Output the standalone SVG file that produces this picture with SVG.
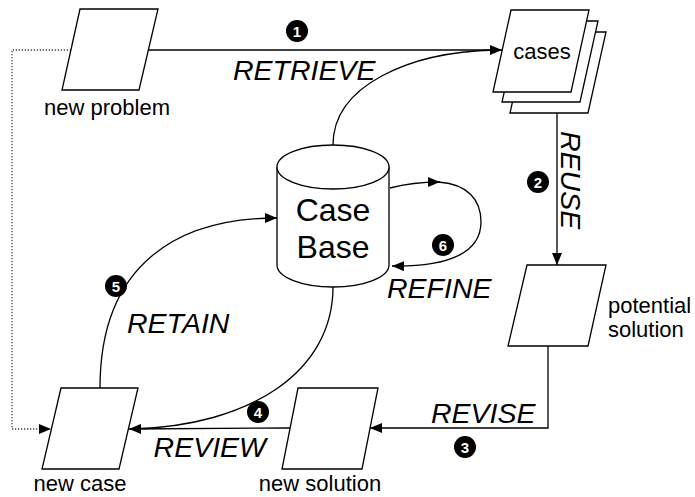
<svg xmlns="http://www.w3.org/2000/svg" width="695" height="497" viewBox="0 0 695 497">
  <defs>
    <marker id="arrow" viewBox="0 0 12 10" refX="12" refY="5" markerWidth="12" markerHeight="10" markerUnits="userSpaceOnUse" orient="auto">
      <path d="M0,0 L12,5 L0,10 Z" fill="#000"/>
    </marker>
    <style>
      .shape { fill: #fff; stroke: #000; stroke-width: 1.3; }
      .line { fill: none; stroke: #000; stroke-width: 1.3; }
      .dotted { fill: none; stroke: #444; stroke-width: 1.3; stroke-dasharray: 1.3 1.7; }
      .label { font-family: "Liberation Sans", Arial, sans-serif; font-size: 22px; fill: #000; }
      .step { font-family: "Liberation Sans", Arial, sans-serif; font-size: 28.5px; font-style: italic; fill: #000; }
      .big { font-family: "Liberation Sans", Arial, sans-serif; font-size: 32px; fill: #000; text-anchor: middle; }
      .badge circle { fill: #000; }
      .badge text { font-family: "Liberation Sans", Arial, sans-serif; font-size: 15px; font-weight: bold; fill: #fff; text-anchor: middle; }
    </style>
  </defs>

  <!-- connectors -->
  <g id="connectors">
    <!-- retrieve: new problem to cases -->
    <path class="line" d="M148,50 L502,50" marker-end="url(#arrow)"/>
    <path class="line" d="M333,145 C333,85 410,52 495,50"/>
    <!-- reuse -->
    <path class="line" d="M557,113 L557,265" marker-end="url(#arrow)"/>
    <!-- revise -->
    <path class="line" d="M548,346 L548,428 L370,428" marker-end="url(#arrow)"/>
    <!-- review -->
    <path class="line" d="M290,428 L129,429" marker-end="url(#arrow)"/>
    <path class="line" d="M333,287 C333,372 250,426 132,429"/>
    <!-- retain -->
    <path class="line" d="M100,388 C100,262 180,218 277,218" marker-end="url(#arrow)"/>
    <!-- refine loop -->
    <path class="line" d="M390,188 C405,184 420,182 440,182" marker-end="url(#arrow)"/>
    <path class="line" d="M438,182 C468,184 481,200 481,222 C481,252 450,267 392,266" marker-end="url(#arrow)"/>
    <!-- new problem also feeds the new case -->
    <path class="dotted" d="M71,50 L12,50 L12,429 L51,429" />
    <path d="M39,424 L51,429 L39,434 Z" fill="#000"/>
  </g>

  <!-- new problem -->
  <g id="new-problem">
    <polygon class="shape" points="80,9 158,9 139,90 62,90"/>
    <text class="label" x="107" y="115" text-anchor="middle">new problem</text>
  </g>

  <!-- cases (stack of sheets) -->
  <g id="cases">
    <polygon class="shape" points="528,32 606,32 588,113 510,113"/>
    <polygon class="shape" points="520,21 598,21 580,102 502,102"/>
    <polygon class="shape" points="511,10 589,10 571,92 493,92"/>
    <text class="label" x="542" y="59" text-anchor="middle">cases</text>
  </g>

  <!-- case base cylinder -->
  <g id="case-base">
    <path class="shape" d="M277,167 L277,265 A56,22 0 0 0 389,265 L389,167"/>
    <ellipse class="shape" cx="333" cy="167" rx="56" ry="22"/>
    <text class="big" x="333" y="221">Case</text>
    <text class="big" x="333" y="258">Base</text>
  </g>

  <!-- potential solution -->
  <g id="potential-solution">
    <polygon class="shape" points="527,265 606,265 588,346 508,346"/>
    <text class="label" x="608" y="313">potential</text>
    <text class="label" x="608" y="337">solution</text>
  </g>

  <!-- new solution -->
  <g id="new-solution">
    <polygon class="shape" points="298,388 378,388 362,469 282,469"/>
    <text class="label" x="320" y="491" text-anchor="middle">new solution</text>
  </g>

  <!-- new case -->
  <g id="new-case">
    <polygon class="shape" points="61,388 138,388 119,469 42,469"/>
    <text class="label" x="80" y="491" text-anchor="middle">new case</text>
  </g>

  <!-- step labels -->
  <g id="labels">
    <text class="step" x="233" y="80">RETRIEVE</text>
    <text class="step" transform="translate(561,131) rotate(90)">REUSE</text>
    <text class="step" x="431" y="423">REVISE</text>
    <text class="step" x="266" y="457" text-anchor="end">REVIEW</text>
    <text class="step" x="127" y="333">RETAIN</text>
    <text class="step" x="387" y="298">REFINE</text>
  </g>

  <!-- step numbers -->
  <g id="badges">
    <g class="badge"><circle cx="297" cy="31" r="11"/><text x="297" y="36.5">1</text></g>
    <g class="badge"><circle cx="538" cy="182" r="11"/><text x="538" y="187.5">2</text></g>
    <g class="badge"><circle cx="465" cy="447" r="11"/><text x="465" y="452.5">3</text></g>
    <g class="badge"><circle cx="258" cy="412" r="11"/><text x="258" y="417.5">4</text></g>
    <g class="badge"><circle cx="116" cy="286" r="11"/><text x="116" y="291.5">5</text></g>
    <g class="badge"><circle cx="443" cy="245" r="11"/><text x="443" y="250.5">6</text></g>
  </g>
</svg>
